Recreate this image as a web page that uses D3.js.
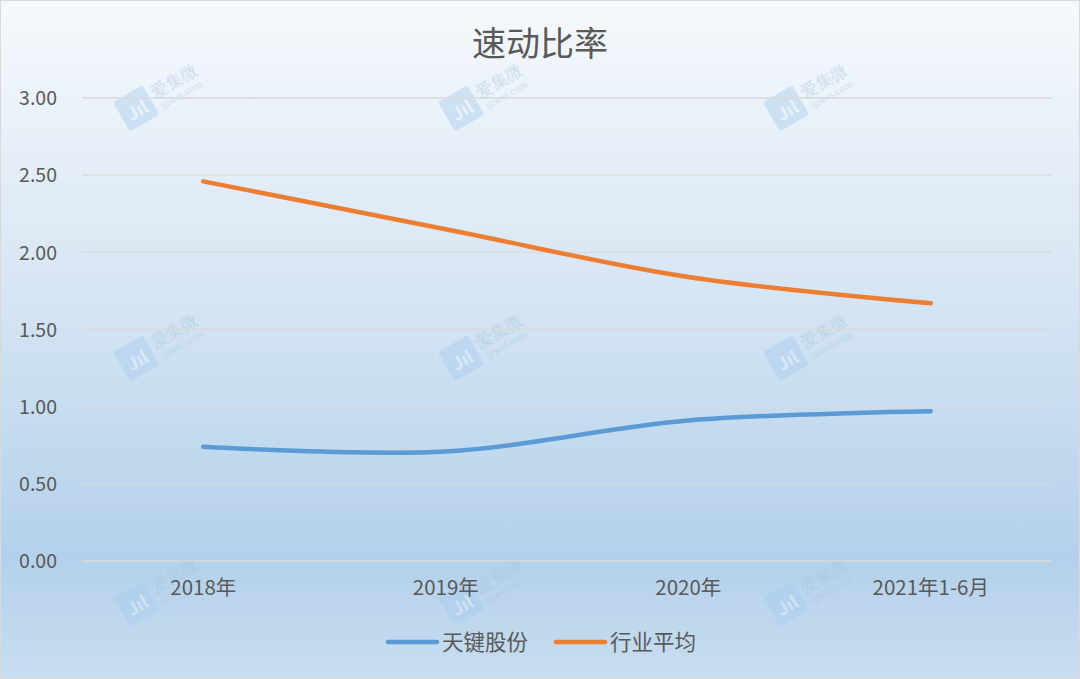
<!DOCTYPE html>
<html><head><meta charset="utf-8">
<script src="https://cdn.jsdelivr.net/npm/d3@7"></script>
<style>html,body{margin:0;padding:0;background:#fff;}svg{display:block;}</style>
</head><body><div id="chart"></div>
<script>
const title = "速动比率";
const categories = ["2018年", "2019年", "2020年", "2021年1-6月"];
const seriesNames = ["天键股份", "行业平均"];
const tianjian = [0.74, 0.71, 0.91, 0.97];
const industry = [2.46, 2.15, 1.84, 1.67];
const yTicks = [0, 0.5, 1, 1.5, 2, 2.5, 3];
const colors = ["#5b9bd5", "#ed7d31"];

const W = 1080, H = 679;
const font = "'Noto Sans CJK SC','Noto Sans',sans-serif";
const svg = d3.select("#chart").append("svg").attr("width", W).attr("height", H);
const defs = svg.append("defs");
const g = defs.append("linearGradient").attr("id","bg").attr("x1",0).attr("y1",0).attr("x2",0).attr("y2",1);
[["0%","#f6f9fd"],["40%","#d9e7f4"],["82%","#b3d1eb"],["100%","#c8ddf0"]].forEach(s=>g.append("stop").attr("offset",s[0]).attr("stop-color",s[1]));
svg.append("rect").attr("x",0.5).attr("y",0.5).attr("width",W-1).attr("height",H-1).attr("fill","url(#bg)").attr("stroke","#d9d9d9");

const x = d3.scaleBand().domain(categories).range([82, 1052]);
const y = d3.scaleLinear().domain([0, 3]).range([561, 98]);

// watermarks
const wmX = [140, 465, 790], wmY = [105, 355, 600];
wmX.forEach(wx => wmY.forEach(wy => {
  const wm = svg.append("g").attr("transform", `translate(${wx},${wy}) rotate(-30)`).attr("opacity", 0.45);
  wm.append("rect").attr("x",-22).attr("y",-16).attr("width",34).attr("height",34).attr("rx",3).attr("fill","#a9cdf0");
  wm.append("text").attr("x",-5).attr("y",10).attr("text-anchor","middle").attr("font-family",font).attr("font-size",18).attr("font-weight","bold").attr("fill","#e8f2fb").text("Jıl");
  wm.append("text").attr("x",16).attr("y",2).attr("font-family","'DejaVu Serif',serif").attr("font-size",17).attr("fill","#a8c4dc").text("爱集微");
  wm.append("text").attr("x",18).attr("y",15).attr("font-family","'DejaVu Serif',serif").attr("font-size",9).attr("fill","#a8c4dc").text("ijiwei.com");
}));

// gridlines
svg.append("g").selectAll("line").data(yTicks).join("line")
  .attr("x1", 82).attr("x2", 1052)
  .attr("y1", d => y(d)).attr("y2", d => y(d))
  .attr("stroke", "#d9d9d9").attr("stroke-width", 1.3);

// y axis labels
const yAxis = d3.axisLeft(y).tickValues(yTicks).tickFormat(d3.format(".2f")).tickSize(0).tickPadding(0);
const ya = svg.append("g").attr("transform","translate(57,0)").call(yAxis);
ya.select(".domain").remove();
ya.selectAll("text").attr("font-family", font).attr("font-size", 19.5).attr("fill", "#595959").attr("dy","0.35em");

// x axis labels
const xAxis = d3.axisBottom(x).tickSize(0).tickPadding(0);
const xa = svg.append("g").attr("transform","translate(0,580)").call(xAxis);
xa.select(".domain").remove();
xa.selectAll("text").attr("font-family", font).attr("font-size", 20.5).attr("fill", "#595959").attr("dy","0.75em");

// lines
const line = d3.line().x((d,i) => x(categories[i]) + x.bandwidth()/2).y(d => y(d)).curve(d3.curveCatmullRom.alpha(0.5));
[tianjian, industry].forEach((s, k) => {
  svg.append("path").datum(s).attr("d", line).attr("fill","none")
    .attr("stroke", colors[k]).attr("stroke-width", 4.5).attr("stroke-linecap","round").attr("stroke-linejoin","round");
});

// title
svg.append("text").attr("x", 540).attr("y", 44).attr("dy","0.35em").attr("text-anchor","middle")
  .attr("font-family", font).attr("font-size", 34).attr("fill", "#595959").text(title);

// legend
const legX = [388, 556];
seriesNames.forEach((n, k) => {
  svg.append("line").attr("x1", legX[k]).attr("x2", legX[k] + 49).attr("y1", 642).attr("y2", 642)
    .attr("stroke", colors[k]).attr("stroke-width", 4.5).attr("stroke-linecap","round");
  svg.append("text").attr("x", legX[k] + 54).attr("y", 642).attr("dy","0.35em")
    .attr("font-family", font).attr("font-size", 21.5).attr("fill", "#595959").text(n);
});
</script></body></html>
